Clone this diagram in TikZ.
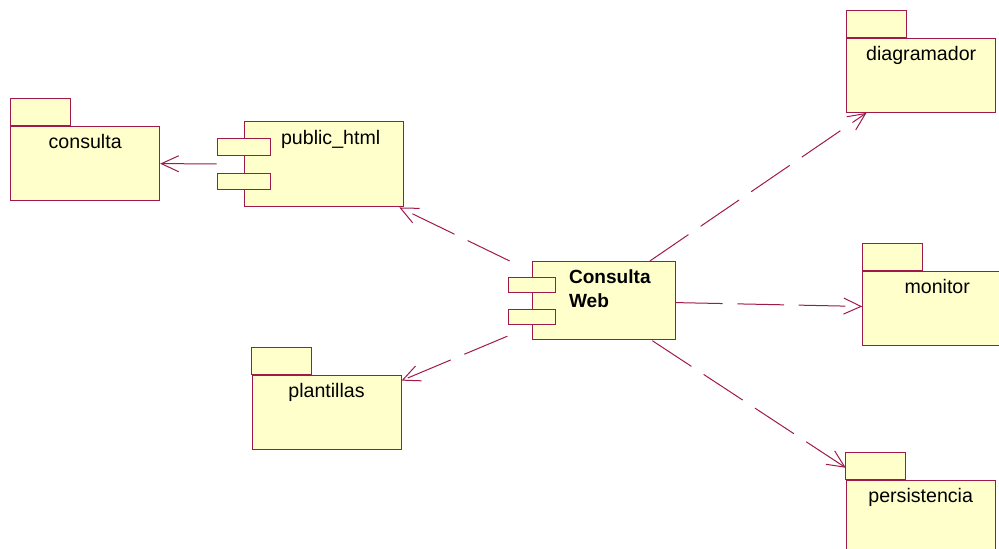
\documentclass[tikz,border=0pt]{standalone}
\usepackage{fontspec}
\setmainfont{Liberation Sans}
\usetikzlibrary{arrows.meta,positioning,fit}
\definecolor{rose}{RGB}{160,25,75}
\definecolor{paper}{RGB}{255,255,204}
\tikzset{
  pkg/.style={draw=rose,fill=paper,line width=0.75pt,inner sep=0pt,minimum width=111.75pt,
    text height=16.5pt,text depth=39pt,font=\fontsize{14.7}{17}\selectfont},
  tab/.style={draw=rose,fill=paper,line width=0.75pt},
  comp/.style={draw=rose,fill=paper,line width=0.75pt,inner sep=0pt},
  port/.style={draw=rose,fill=paper,line width=0.75pt,inner sep=0pt},
  ctext/.style={anchor=north west,xshift=27.75pt,yshift=-6.3pt,inner sep=0pt,align=left,
    font=\fontsize{14.7}{18}\selectfont},
  dep/.style={-{Straight Barb[length=13pt,width=12pt]},rose,line width=0.75pt,
    dash pattern=on 35pt off 11pt},
}

\begin{document}
\begin{tikzpicture}[x=0.75pt,y=-0.75pt]
\useasboundingbox (0,0) rectangle (999,549);
% paquetes
\node[pkg] (cons) at (85.2,163.4) {consulta};
\node[pkg] (plant) at (326.5,412) {plantillas};
\node[pkg] (diag) at (921.2,75.4) {diagramador};
\node[pkg] (mon) at (937.2,308) {monitor};
\node[pkg] (pers) at (920.7,517) {persistencia};
\foreach \p in {cons,plant,diag,mon,pers}
  \draw[tab] (\p.north west) rectangle ++(60,-27);
% componentes
\node[comp,minimum width=119.25pt,minimum height=63.75pt,
  label={[ctext]north west:public\_html}] (phbody) at (323.8,164.2) {};
\node[port,minimum width=39.5pt,minimum height=12.5pt] (php1) at ([yshift=13pt]phbody.west) {};
\node[port,minimum width=39.5pt,minimum height=12.5pt] (php2) at ([yshift=-13pt]phbody.west) {};
\node[fit=(phbody)(php1)(php2),inner sep=0pt] (ph) {};
\node[comp,minimum width=107.25pt,minimum height=58.7pt,
  label={[ctext,font=\bfseries\fontsize{14.3}{18}\selectfont]north west:Consulta\\Web}] (cwbody) at (603.8,300.85) {};
\node[port,minimum width=35.5pt,minimum height=11pt] (cwp1) at ([yshift=11.9pt]cwbody.west) {};
\node[port,minimum width=35.5pt,minimum height=11pt] (cwp2) at ([yshift=-11.9pt]cwbody.west) {};
\node[fit=(cwbody)(cwp1)(cwp2),inner sep=0pt] (cw) {};
% dependencias
\draw[dep] (cw) -- (ph);
\draw[dep] (cw) -- (plant);
\draw[dep] (cw) -- (diag);
\draw[dep] (cw) -- (mon);
\draw[dep] (cw) -- (intersection of cw.center--pers.center and pers.north west--pers.south west);
\draw[dep,solid] (ph) -- (cons);
\end{tikzpicture}
\end{document}
